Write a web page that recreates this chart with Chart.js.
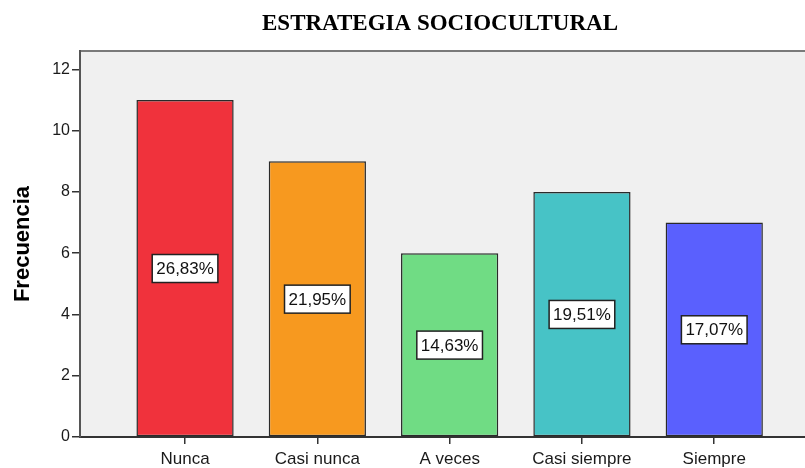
<!DOCTYPE html>
<html>
<head>
<meta charset="utf-8">
<script src="https://cdn.jsdelivr.net/npm/chart.js@4.4.1/dist/chart.umd.min.js"></script>
<style>
  html, body { margin: 0; padding: 0; background: #fff; }
  #wrap { width: 805px; height: 468px; position: relative; }
</style>
</head>
<body>
<div id="wrap"><canvas id="chart"></canvas></div>
<script>
const titleText = "ESTRATEGIA SOCIOCULTURAL";
const categories = ["Nunca", "Casi nunca", "A veces", "Casi siempre", "Siempre"];
const frecuencia = [11, 9, 6, 8, 7];
const porcentajes = ["26,83%", "21,95%", "14,63%", "19,51%", "17,07%"];
const barColors = ["#f0323c", "#f7991f", "#70dc84", "#47c3c6", "#5a60fe"];
const yTicks = [0, 2, 4, 6, 8, 10, 12];

// plot background + top frame line + manual title
const frame = {
  id: "frame",
  beforeDraw(chart) {
    const { ctx, chartArea: a } = chart;
    ctx.save();
    ctx.fillStyle = "#f0f0f0";
    ctx.fillRect(a.left, a.top, a.right - a.left, a.bottom - a.top);
    ctx.strokeStyle = "#7a7a7a";
    ctx.lineWidth = 2;
    ctx.beginPath();
    ctx.moveTo(a.left, a.top);
    ctx.lineTo(a.right, a.top);
    ctx.stroke();
    ctx.restore();
  },
  afterDraw(chart) {
    const ctx = chart.ctx;
    ctx.save();
    ctx.fillStyle = "#000";
    ctx.font = "bold 23px 'Liberation Serif', 'Times New Roman', serif";
    ctx.textAlign = "center";
    ctx.textBaseline = "middle";
    ctx.fillText(titleText, 440, 24);
    ctx.restore();
  }
};

// percent boxes in the middle of each bar
const boxLabels = {
  id: "boxLabels",
  afterDatasetsDraw(chart) {
    const { ctx } = chart;
    const yScale = chart.scales.y;
    const meta = chart.getDatasetMeta(0);
    ctx.save();
    ctx.font = "17px 'Liberation Sans', Arial, sans-serif";
    ctx.textAlign = "center";
    ctx.textBaseline = "middle";
    meta.data.forEach((bar, i) => {
      const y = yScale.getPixelForValue(frecuencia[i] / 2);
      const w = ctx.measureText(porcentajes[i]).width + 8;
      const h = 28;
      ctx.fillStyle = "#fff";
      ctx.fillRect(bar.x - w / 2, y - h / 2, w, h);
      ctx.strokeStyle = "#222";
      ctx.lineWidth = 1.5;
      ctx.strokeRect(bar.x - w / 2, y - h / 2, w, h);
      ctx.fillStyle = "#111";
      ctx.fillText(porcentajes[i], bar.x, y + 1);
    });
    ctx.restore();
  }
};

new Chart(document.getElementById("chart"), {
  type: "bar",
  data: {
    datasets: [{
      data: frecuencia.map((v, i) => ({ x: i, y: v })),
      backgroundColor: barColors,
      borderColor: "#2a2a2a",
      borderWidth: 1.5,
      borderSkipped: false,
      barPercentage: 0.735,
      categoryPercentage: 1,
    }],
  },
  options: {
    responsive: true,
    maintainAspectRatio: false,
    animation: false,
    layout: { padding: { top: 51, right: 0, left: 0, bottom: 0 } },
    plugins: {
      legend: { display: false },
      title: { display: false },
      tooltip: { enabled: false },
    },
    scales: {
      x: {
        type: "linear",
        offset: false,
        min: -0.794,
        max: 4.686,
        afterBuildTicks: (s) => { s.ticks = categories.map((c, i) => ({ value: i })); },
        afterFit: (s) => { s.height = 31; },
        ticks: {
          callback: (v) => categories[v],
          color: "#1a1a1a",
          font: { family: "'Liberation Sans', Arial, sans-serif", size: 17 },
          padding: 5,
          autoSkip: false,
          maxRotation: 0,
        },
        grid: { offset: false, drawOnChartArea: false, drawTicks: true, tickLength: 7, color: "#333", lineWidth: 1.5 },
        border: { display: true, color: "#333", width: 2 },
      },
      y: {
        min: 0,
        max: 12.6,
        afterBuildTicks: (s) => { s.ticks = yTicks.map((v) => ({ value: v })); },
        afterFit: (s) => { s.width = 80; },
        ticks: {
          color: "#1a1a1a",
          font: { family: "'Liberation Sans', Arial, sans-serif", size: 16 },
          padding: 2,
        },
        grid: { drawOnChartArea: false, drawTicks: true, tickLength: 8, color: "#333", lineWidth: 1.5 },
        border: { display: true, color: "#555", width: 2 },
        title: {
          display: true,
          text: "Frecuencia",
          color: "#000",
          font: { family: "'Liberation Sans', Arial, sans-serif", size: 22, weight: "bold" },
          padding: { top: 10, bottom: 8 },
        },
      },
    },
  },
  plugins: [frame, boxLabels],
});
</script>
</body>
</html>
